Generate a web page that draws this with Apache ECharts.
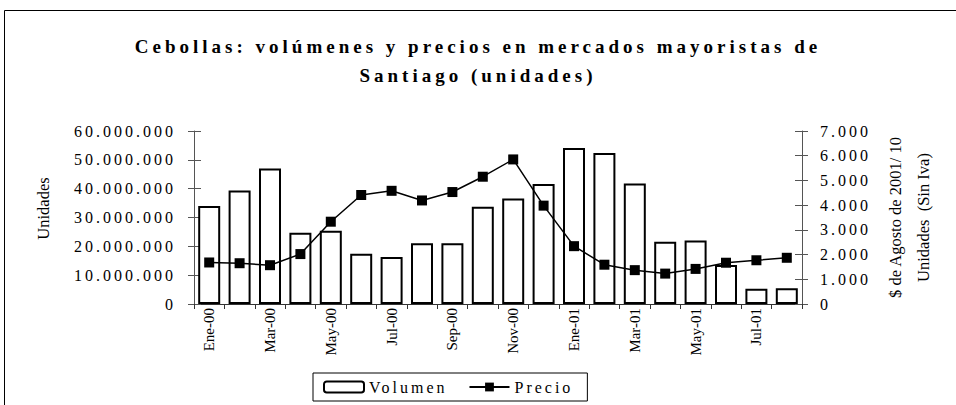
<!DOCTYPE html>
<html>
<head>
<meta charset="utf-8">
<script src="https://cdn.jsdelivr.net/npm/echarts@6/dist/echarts.min.js"></script>
<style>
  html, body { margin: 0; padding: 0; background: #fff; }
  #chart { width: 956px; height: 405px; }
  /* espaciado de letras como en el original */
  #chart text[style*="19px"] { letter-spacing: 4px; }
  #chart text[style*="16px"] { letter-spacing: 3px; }
</style>
</head>
<body>
<div id="chart"></div>
<script>
const meses = ['Ene-00', 'Feb-00', 'Mar-00', 'Abr-00', 'May-00', 'Jun-00', 'Jul-00', 'Ago-00', 'Sep-00', 'Oct-00',
  'Nov-00', 'Dic-00', 'Ene-01', 'Feb-01', 'Mar-01', 'Abr-01', 'May-01', 'Jun-01', 'Jul-01', 'Ago-01'];
const volumen = [34000000, 39400000, 47000000, 24700000, 25400000, 17400000, 16300000, 21100000, 21100000, 33700000,
  36600000, 41600000, 54100000, 52400000, 41800000, 21600000, 22000000, 13500000, 5300000, 5500000];
const precio = [1680, 1650, 1570, 2020, 3330, 4410, 4580, 4190, 4530, 5150,
  5850, 3980, 2340, 1590, 1370, 1230, 1420, 1670, 1770, 1870];

const serif = 'Liberation Serif';
const puntos = v => String(v).replace(/\B(?=(\d{3})+(?!\d))/g, '.');

let myChart = echarts.init(document.getElementById('chart'), null, { renderer: 'svg' });
myChart.setOption({
  animation: false,
  backgroundColor: '#fff',
  title: {
    text: 'Cebollas: volúmenes y precios en mercados mayoristas de\nSantiago (unidades)',
    left: 'center',
    top: 32,
    padding: 0,
    textStyle: { fontFamily: serif, fontSize: 19, fontWeight: 'bold', color: '#000', lineHeight: 29 }
  },
  graphic: [
    {
      type: 'rect',
      shape: { x: 4.5, y: 10.5, width: 1000, height: 1000 },
      style: { fill: 'none', stroke: '#000', lineWidth: 1 }
    }
  ],
  legend: {
    left: 313,
    top: 373,
    padding: [6, 32, 6, 10],
    itemGap: 42,
    itemWidth: 40,
    itemHeight: 11,
    borderColor: '#000',
    borderWidth: 1,
    textStyle: { fontFamily: serif, fontSize: 16, color: '#000' },
    data: ['Volumen', 'Precio']
  },
  grid: { left: 194, right: 154, top: 131, bottom: 101, containLabel: false, outerBoundsMode: 'none' },
  xAxis: {
    type: 'category',
    data: meses,
    axisLine: { lineStyle: { color: '#333', width: 1 } },
    axisTick: { show: true, interval: 0, length: 5, lineStyle: { color: '#333' } },
    axisLabel: { interval: 1, rotate: 90, margin: 4, padding: [0, 0, 12, 0], fontFamily: serif, fontSize: 15, color: '#000' },
    splitLine: { show: false }
  },
  yAxis: [
    {
      type: 'value',
      position: 'left',
      min: 0, max: 60000000, interval: 10000000,
      name: 'Unidades',
      nameLocation: 'middle',
      nameRotate: 90,
      nameGap: 142,
      nameMoveOverlap: false,
      nameTextStyle: { fontFamily: serif, fontSize: 16.5, color: '#000', padding: [0, 0, 0, 18] },
      axisLine: { show: true, lineStyle: { color: '#555' } },
      axisTick: { show: true, length: 6, lineStyle: { color: '#555' } },
      axisLabel: { margin: 18, fontFamily: serif, fontSize: 16, color: '#000', formatter: puntos },
      splitLine: { show: false }
    },
    {
      type: 'value',
      position: 'right',
      min: 0, max: 7000, interval: 1000,
      name: '$ de Agosto de 2001/ 100\nUnidades  (Sin Iva)',
      nameLocation: 'middle',
      nameRotate: 90,
      nameGap: 79,
      nameMoveOverlap: false,
      nameTruncate: { maxWidth: 166, ellipsis: '' },
      nameTextStyle: { fontFamily: serif, fontSize: 16.5, color: '#000', lineHeight: 28, align: 'center' },
      axisLine: { show: true, lineStyle: { color: '#555' } },
      axisTick: { show: true, length: 6, lineStyle: { color: '#555' } },
      axisLabel: { margin: 18, fontFamily: serif, fontSize: 16, color: '#000', formatter: puntos },
      splitLine: { show: false }
    },
    {
      // marcas interiores (izquierda)
      type: 'value',
      position: 'left',
      min: 0, max: 60000000, interval: 10000000,
      axisLine: { show: false },
      axisTick: { show: true, inside: true, length: 7, lineStyle: { color: '#555' } },
      axisLabel: { show: false },
      splitLine: { show: false }
    },
    {
      // marcas interiores (derecha)
      type: 'value',
      position: 'right',
      min: 0, max: 7000, interval: 1000,
      axisLine: { show: false },
      axisTick: { show: true, inside: true, length: 7, lineStyle: { color: '#555' } },
      axisLabel: { show: false },
      splitLine: { show: false }
    }
  ],
  series: [
    {
      name: 'Volumen',
      type: 'bar',
      yAxisIndex: 0,
      barWidth: 22,
      itemStyle: { color: '#fff', borderColor: '#000', borderWidth: 2 },
      data: volumen
    },
    {
      name: 'Precio',
      type: 'line',
      yAxisIndex: 1,
      symbol: 'rect',
      symbolSize: 10,
      z: 5,
      itemStyle: { color: '#000' },
      lineStyle: { color: '#000', width: 1.5 },
      data: precio
    }
  ]
});
</script>
</body>
</html>
